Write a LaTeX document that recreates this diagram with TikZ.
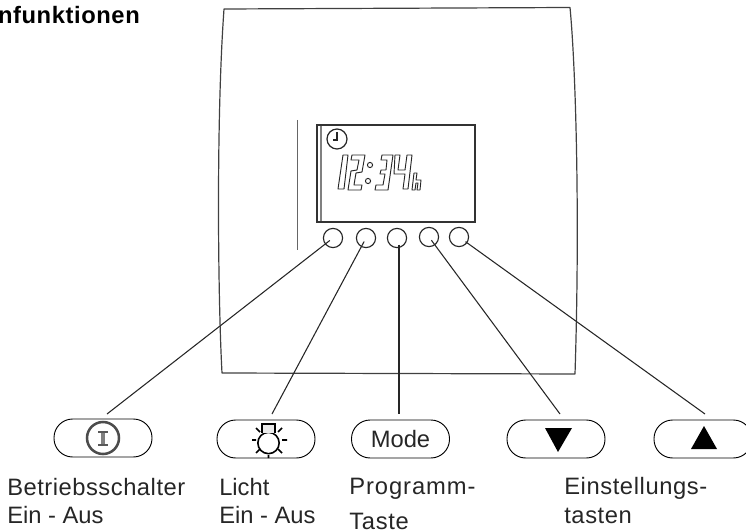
\documentclass[tikz,border=0pt]{standalone}
\usepackage{fontspec}
\setmainfont{Liberation Sans}
\tikzset{
 px/.style={x=0.75pt,y=-0.75pt},
 lab/.style={anchor=base west,inner sep=0pt,font=\fontsize{17.8}{19}\selectfont,text=black!85},
 pill/.style={draw=black,line width=0.7pt,rounded corners=14pt,minimum width=73.5pt,minimum height=28.5pt,inner sep=0pt,font=\fontsize{17.8}{19}\selectfont,text=black!85},
 lead/.style={draw=black!85,line width=0.8pt},
 knob/.style={circle,draw=black!85,line width=0.85pt,minimum size=14.4pt,inner sep=0pt},
 panel/.style={draw=black!75,line width=0.9pt},
 seg/.style={draw=black!85,line width=0.7pt,line join=round},
 ray/.style={draw=black,line width=1.2pt}
}
\begin{document}
\begin{tikzpicture}[px]
\useasboundingbox (0,0) rectangle (746,531);
\node[anchor=base east,inner sep=0pt,font=\bfseries\fontsize{17.8}{19}\selectfont\addfontfeature{LetterSpace=2.5}] (title) at (140,24) {nfunktionen};
% housing
\draw[panel,line join=round] (224,9) -- (570,7.5)
  .. controls (576,70) and (580,220) .. (575,374) -- (222,373)
  .. controls (218,300) and (216,120) .. cycle;
% display
\draw[draw=black!80,line width=1.05pt] (317,125) rectangle (475,222);
\draw[draw=black!50,line width=0.9pt] (321,126) -- (321,221);
\draw[draw=black!60,line width=0.7pt] (297,120) -- (297,250);
\node[circle,draw=black!85,line width=0.9pt,minimum size=15pt,inner sep=0pt] (clock) at (337,139) {};
\draw[black!85,line width=0.9pt] (337,132) -- (337,140) -- (333,140);
% digits
\begin{scope}[seg]
\draw (343,155) -- (348,155) -- (344,189) -- (338,189) -- cycle;
\draw (352,155) -- (365,155) -- (362,172) -- (356,173) -- (354,185) -- (362,185) -- (361,190) -- (348,190) -- (351,171) -- (357,170) -- (359,160) -- (351,160) -- cycle;
\draw (370,165) circle (2.6);
\draw (368,181) circle (2.6);
\draw (382,155) -- (393,155) -- (388,190) -- (375,190) -- (376,185) -- (383,185) -- (385,174) -- (380,174) -- (381,170) -- (386,170) -- (387,160) -- (381,160) -- cycle;
\draw (395,155) -- (400,155) -- (398,170) -- (405,170) -- (407,155) -- (412,155) -- (408,189) -- (403,189) -- (405,174) -- (394,174) -- cycle;
\draw (414,173) -- (417,173) -- (416,180) -- (421,180) -- (420,190) -- (417,190) -- (418,183) -- (416,183) -- (415,190) -- (412,190) -- cycle;
\end{scope}
% knobs
\node[knob] (k1) at (333,238) {};
\node[knob] (k2) at (366,238) {};
\node[knob] (k3) at (397,238) {};
\node[knob] (k4) at (429,237) {};
\node[knob] (k5) at (459,237) {};
% pills
\node[pill] (p1) at (103,438) {};
\node[pill] (p2) at (266,439) {};
\node[pill] (p3) at (400.5,439) {Mode};
\node[pill] (p4) at (556,439) {};
\node[pill] (p5) at (703,439) {};
% leaders
\coordinate (e1) at (107,414);
\coordinate (e2) at (272,414);
\coordinate (e3) at (399,414);
\coordinate (e4) at (560,414);
\coordinate (e5) at (705,414);
\draw[lead,shorten <=3pt] (k1.center) -- (e1);
\draw[lead,shorten <=3pt] (k2.center) -- (e2);
\draw[lead] ([yshift=-5pt]k3.center -| e3) -- (e3);
\draw[lead,shorten <=3pt] (k4.center) -- (e4);
\draw[lead,shorten <=6pt] (k5.center) -- (e5);
% icon 1
\node[circle,draw=black!70,line width=1.9pt,minimum size=24pt,inner sep=0pt] (i1) at (103,438) {};
\draw[black!50,line width=2.4pt] (103,432) -- (103,445);
\draw[black!65,line width=1.1pt] (98,432) -- (108,432) (98,445) -- (108,445);
% icon 2
\node[circle,draw=black,line width=1.2pt,minimum size=16pt,inner sep=0pt] (i2) at (268.5,443) {};
\draw[black,line width=0.9pt,fill=black!8] (262,433) -- (262,424) -- (275,424) -- (275,433);
\draw[ray] (252,440) -- (256,440) (282,440) -- (287,440) (268.5,455) -- (268.5,458)
 (256,428) -- (260,432) (282,428) -- (278,432) (256,453) -- (260,449) (282,453) -- (278,449);
% triangles
\fill[black] (545,428) -- (572,428) -- (558,452) -- cycle;
\fill[black] (691,449) -- (717,449) -- (704,426) -- cycle;
% labels
\node[lab] (a1) at (7,495) {\addfontfeature{LetterSpace=2.2}Betriebsschalter};
\node[lab] (a2) at (7,523) {Ein - Aus};
\node[lab] (b1) at (219,495) {Licht};
\node[lab] (b2) at (219,523) {Ein - Aus};
\node[lab] (c1) at (349,494) {\addfontfeature{LetterSpace=4}Programm-};
\node[lab] (c2) at (349,529) {\addfontfeature{LetterSpace=3}Taste};
\node[lab] (d1) at (564,494) {\addfontfeature{LetterSpace=2.5}Einstellungs-};
\node[lab] (d2) at (564,523) {\addfontfeature{LetterSpace=2.5}tasten};
\end{tikzpicture}
\end{document}
